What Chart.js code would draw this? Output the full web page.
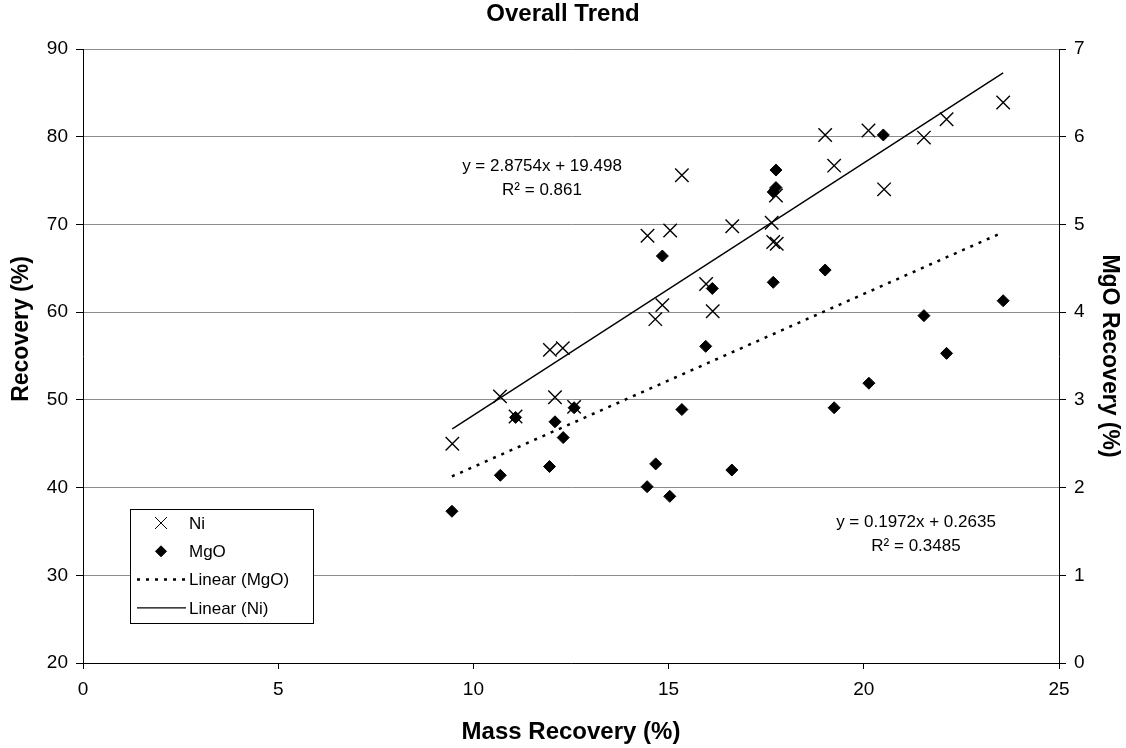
<!DOCTYPE html>
<html>
<head>
<meta charset="utf-8">
<title>Overall Trend</title>
<script src="https://cdn.jsdelivr.net/npm/chart.js@4.4.1/dist/chart.umd.min.js"></script>
<style>
  body { margin: 0; background: #fff; }
  #wrap { width: 1126px; height: 748px; }
</style>
</head>
<body>
<div id="wrap"><canvas id="trendChart" width="1126" height="748"></canvas></div>
<script>
// Ni recovery (%) against mass recovery (%)
var niMass = [9.46, 10.68, 11.08, 11.96, 12.09, 12.29, 12.58, 14.46, 14.66, 14.84, 15.04, 15.34, 15.96,
              16.13, 16.63, 17.64, 17.68, 17.77, 17.75, 19.01, 19.24, 20.12, 20.52, 21.54, 22.12, 23.57];
var niRecovery = [45.0, 50.4, 48.1, 55.7, 50.3, 55.9, 49.2, 68.7, 59.2, 60.8, 69.3, 75.6, 63.2,
                  60.1, 69.8, 70.2, 68.0, 67.8, 73.3, 80.2, 76.7, 80.7, 74.0, 79.9, 82.0, 83.9];

// MgO recovery (%) against mass recovery (%), right axis
var mgoMass = [9.45, 10.69, 11.08, 11.95, 12.09, 12.30, 12.58, 14.45, 14.67, 14.84, 15.03, 15.34, 15.95,
               16.12, 16.62, 17.68, 17.68, 17.75, 17.75, 19.01, 19.24, 20.13, 20.50, 21.54, 22.12, 23.57];
var mgoRecovery = [1.73, 2.14, 2.80, 2.24, 2.75, 2.57, 2.91, 2.01, 2.27, 4.64, 1.90, 2.89, 3.61,
                   4.27, 2.20, 4.34, 5.37, 5.42, 5.62, 4.48, 2.91, 3.19, 6.02, 3.96, 3.53, 4.13];

// linear fits as printed on the chart
var niFit = [2.8754, 19.498];   // slope, intercept
var niR2 = 0.861;
var mgoFit = [0.1972, 0.2635];
var mgoR2 = 0.3485;

var xTicks = [0, 5, 10, 15, 20, 25];
var yTicks = [20, 30, 40, 50, 60, 70, 80, 90];
var y2Ticks = [0, 1, 2, 3, 4, 5, 6, 7];

function toPoints(xs, ys) {
  return xs.map(function (x, i) { return { x: x, y: ys[i] }; });
}

function trendPoints(xs, fit) {
  var lo = Math.min.apply(null, xs), hi = Math.max.apply(null, xs);
  return [{ x: lo, y: fit[0] * lo + fit[1] }, { x: hi, y: fit[0] * hi + fit[1] }];
}

Chart.defaults.font.family = '"Liberation Sans", Arial, Helvetica, sans-serif';
Chart.defaults.color = '#000';

// legend drawn inside the plot, like the original
const boxLegend = {
  id: 'boxLegend',
  afterDraw(chart) {
    const c = chart.ctx;
    const left = 130, top = 509, w = 183, h = 114;
    c.save();
    c.fillStyle = '#fff';
    c.fillRect(left, top, w, h);
    c.strokeStyle = '#000';
    c.lineWidth = 1;
    c.strokeRect(left + 0.5, top + 0.5, w, h);
    c.font = '17px "Liberation Sans", Arial, sans-serif';
    c.textBaseline = 'middle';
    chart.data.datasets.forEach(function (ds, i) {
      const y = top + 14 + i * 28.3;
      c.strokeStyle = '#000';
      c.fillStyle = '#000';
      if (ds.showLine) {
        c.lineWidth = ds.borderWidth;
        c.setLineDash(ds.borderDash || []);
        c.beginPath();
        c.moveTo(left + 7, y);
        c.lineTo(left + 56, y);
        c.stroke();
        c.setLineDash([]);
      } else {
        Chart.helpers.drawPoint(c, {
          pointStyle: ds.pointStyle,
          radius: ds.pointStyle === 'crossRot' ? 8.5 : 5.5,
          borderWidth: ds.borderWidth,
          rotation: 0
        }, left + 31, y);
      }
      c.fillStyle = '#000';
      c.fillText(ds.label, left + 59, y + 1);
    });
    c.restore();
  }
};

// trend equations and the left axis title (sits a bit above centre in the original)
const fitLabels = {
  id: 'fitLabels',
  afterDatasetsDraw(chart) {
    const c = chart.ctx;
    c.save();
    c.font = '17px "Liberation Sans", Arial, sans-serif';
    c.fillStyle = '#000';
    c.textAlign = 'center';
    c.textBaseline = 'middle';
    c.fillText('y = ' + niFit[0] + 'x + ' + niFit[1], 542, 166);
    c.fillText('R\u00b2 = ' + niR2, 542, 190);
    c.fillText('y = ' + mgoFit[0] + 'x + ' + mgoFit[1], 916, 522);
    c.fillText('R\u00b2 = ' + mgoR2, 916, 546);

    c.translate(22, 329);
    c.rotate(-Math.PI / 2);
    c.font = 'bold 23px "Liberation Sans", Arial, sans-serif';
    c.fillText('Recovery (%)', 0, 0);
    c.restore();
  }
};

const ctx = document.getElementById('trendChart');
new Chart(ctx, {
  type: 'scatter',
  data: {
    datasets: [{
      label: 'Ni',
      data: toPoints(niMass, niRecovery),
      yAxisID: 'y',
      pointStyle: 'crossRot',
      pointRadius: 9.5,
      borderColor: '#000',
      backgroundColor: '#000',
      borderWidth: 1.4
    }, {
      label: 'MgO',
      data: toPoints(mgoMass, mgoRecovery),
      yAxisID: 'y2',
      pointStyle: 'rectRot',
      pointRadius: 6,
      borderColor: '#000',
      backgroundColor: '#000',
      borderWidth: 1
    }, {
      label: 'Linear (MgO)',
      data: trendPoints(mgoMass, mgoFit),
      yAxisID: 'y2',
      showLine: true,
      pointRadius: 0,
      borderColor: '#000',
      borderWidth: 2.5,
      borderDash: [3, 6]
    }, {
      label: 'Linear (Ni)',
      data: trendPoints(niMass, niFit),
      yAxisID: 'y',
      showLine: true,
      pointRadius: 0,
      borderColor: '#000',
      borderWidth: 1.4
    }]
  },
  options: {
    responsive: false,
    animation: false,
    events: [],
    layout: { padding: 0 },
    plugins: {
      legend: { display: false },
      tooltip: { enabled: false },
      title: {
        display: true,
        text: 'Overall Trend',
        font: { size: 24, weight: 'bold' },
        color: '#000',
        padding: { top: 0, bottom: 20.2 }
      }
    },
    scales: {
      x: {
        type: 'linear',
        position: 'bottom',
        min: 0, max: 25,
        afterBuildTicks: function (s) { s.ticks = xTicks.map(function (v) { return { value: v }; }); },
        ticks: { font: { size: 19 }, padding: 9, color: '#000' },
        grid: { drawOnChartArea: false, tickLength: 6, tickColor: '#000' },
        border: { color: '#000', width: 1 },
        title: { display: true, text: 'Mass Recovery (%)', font: { size: 24, weight: 'bold' }, color: '#000', padding: { top: 0, bottom: 1 } },
        afterFit: function (s) { s.height = 85; }
      },
      y: {
        position: 'left',
        min: 20, max: 90,
        afterBuildTicks: function (s) { s.ticks = yTicks.map(function (v) { return { value: v }; }); },
        ticks: { font: { size: 19 }, padding: 8, color: '#000' },
        grid: { color: '#8c8c8c', tickColor: '#000', tickLength: 7 },
        border: { color: '#000', width: 1 },
        title: { display: false },
        afterFit: function (s) { s.width = 83; }
      },
      y2: {
        position: 'right',
        min: 0, max: 7,
        afterBuildTicks: function (s) { s.ticks = y2Ticks.map(function (v) { return { value: v }; }); },
        ticks: { font: { size: 19 }, padding: 8, color: '#000' },
        grid: { drawOnChartArea: false, tickColor: '#000', tickLength: 7 },
        border: { color: '#000', width: 1 },
        title: { display: true, text: 'MgO Recovery (%)', font: { size: 23, weight: 'bold' }, color: '#000', padding: { top: 3, bottom: 0 } },
        afterFit: function (s) { s.width = 67; }
      }
    }
  },
  plugins: [boxLegend, fitLabels]
});
</script>
</body>
</html>
